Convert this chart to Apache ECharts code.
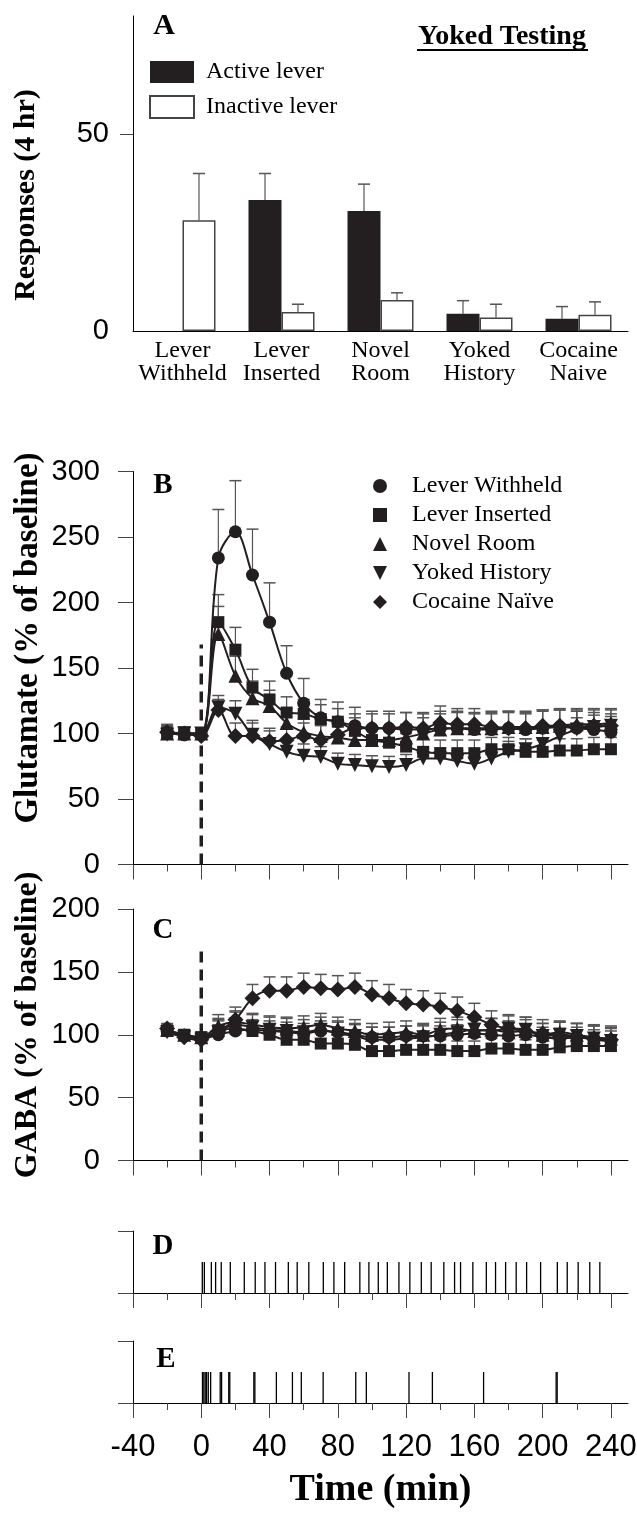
<!DOCTYPE html>
<html><head><meta charset="utf-8">
<script src="https://cdn.jsdelivr.net/npm/echarts@6/dist/echarts.min.js"></script>
<style>html,body{margin:0;padding:0;background:#fff}#c{width:637px;height:1521px}</style>
</head><body><div id="c"></div>
<script>
// ---------- Panel A data ----------
const barCategories = ['Lever\nWithheld','Lever\nInserted','Novel\nRoom','Yoked\nHistory','Cocaine\nNaive'];
const activeLever = [0, 33.3, 30.5, 4.4, 3.1];
const activeLeverErr = [0, 6.7, 6.8, 3.3, 3.1];
const inactiveLever = [28.1, 4.8, 7.9, 3.4, 4.1];
const inactiveLeverErr = [11.9, 2.0, 1.8, 3.4, 3.3];
const barYLabels = [0, 50];
const barYTicks = [50];

// ---------- Panels B, C data ----------
const groupNames = ['Lever Withheld','Lever Inserted','Novel Room','Yoked History','Cocaine Naïve'];
const timeMin = [-20,-10,0,10,20,30,40,50,60,70,80,90,100,110,120,130,140,150,160,170,180,190,200,210,220,230,240];

const gluLW = [101,99,99,234,254,221,185,146,123,112,109,106,104,104,103,103,104,104,103,103,104,103,104,105,104,103,101];
const gluLWErr = [6,6,5,37,39,35,30,21,19,14,15,14,13,13,13,12,13,13,12,12,13,12,13,13,13,13,12];
const gluLI = [100,100,100,185,164,135,126,116,115,111,109,102,95,93,90,86,85,85,85,88,88,86,86,87,87,88,88];
const gluLIErr = [5,5,4,21,17,14,14,12,11,11,10,10,10,10,10,10,10,10,10,9,9,10,9,9,9,9,9];
const gluNR = [100,100,100,176,144,127,121,108,101,98,97,95,95,95,97,100,103,104,104,104,105,105,105,106,107,107,108];
const gluNRErr = [5,5,4,21,15,13,12,11,10,10,10,10,10,10,10,12,12,12,12,12,12,12,13,12,12,12,11];
const gluYH = [99,100,100,120,115,99,92,86,83,82,77,76,75,74.5,76,81,81,79,77,81,86,88,92,98,103,105,106];
const gluYHErr = [5,5,4,9,10,11,10,9,9,8,8,8,8,8,8,8,8,8,8,8,8,8,9,9,9,9,9];
const gluCN = [101,100,98,118,98,98,94,95,98,95,99,104,104,104,105,104,108,107,107,105,104,104,106,106,105,106,106];
const gluCNErr = [5,5,4,8,10,10,10,10,10,11,11,11,11,11,11,12,13,12,12,12,12,12,12,13,13,12,12];

const gabaLW = [103,99,97,100,103,104,103,102,101,103,102,100,98,98,99,99,99,100,101,100,99,100,98,97,98,96,95];
const gabaLWErr = [4,4,4,8,8,8,8,8,8,8,8,8,8,8,8,8,8,8,8,8,8,8,8,8,8,8,8];
const gabaLI = [103,100,98,103,105,103,100,96,96,93,93,92,87,87,88,88,88,87,87,89,89,88,88,90,91,91,91];
const gabaLIErr = [4,4,4,8,8,8,8,8,8,8,8,8,8,8,8,8,8,8,8,8,8,8,8,8,8,8,8];
const gabaNR = [104,100,98,107,110,108,106,105,106,108,105,103,100,101,102,100,104,105,103,104,102,103,100,102,100,98,97];
const gabaNRErr = [4,4,4,9,9,9,9,9,9,9,9,9,9,9,9,9,9,9,9,9,9,9,9,9,9,9,9];
const gabaYH = [102,98,96,102,108,106,104,103,102,104,101,99,96,96,97,98,100,102,104,103,105,104,99,100,99,97,95];
const gabaYHErr = [4,4,4,10,10,10,10,10,10,10,10,10,10,10,10,10,10,10,10,10,10,10,10,10,10,10,10];
const gabaCN = [105,98,96,103,112,129,135,135,138,137,136,138,132,129,125,124,122,119,114,108,105,103,101,99,98,97,96];
const gabaCNErr = [4,4,4,10,10,11,11,11,11,11,11,11,11,11,11,11,11,11,11,11,11,11,11,11,11,11,11];

// ---------- Panels D, E data (event times, min) ----------
const eventsD = [0.6,1.8,5.9,8.4,11.7,17,25.2,31.6,37.3,43.5,51,56.2,63,71.5,77.7,84,92.9,98.2,103.7,109,115.8,122.2,128.9,134.7,142.1,148.4,151.9,159.1,167,172.4,178.3,184.5,190.6,198.8,208.6,214.4,220.8,227.6,233.5];
const eventsE = [0.7,1.5,2.3,3.1,4.1,5.5,11.1,11.9,16.1,16.7,30.8,31.4,44,53.4,58.6,71.4,90.5,96.7,121.7,135.4,165.4,207.9,208.5];

// ---------- axis tick values ----------
const timeMajorTicks = [-40,0,40,80,120,160,200,240];
const timeMinorTicks = [-20,20,60,100,140,180,220];
const gluTicks = [0,50,100,150,200,250,300];
const gabaTicks = [0,50,100,150,200];
const rasterTicks = [0,2];
const onsetTime = 0;
const onsetTopGlu = 168;
const onsetTopGaba = 171;

// ---------- styling ----------
const INK = '#231f20';
const SERIF = 'Liberation Serif';
const SANS = 'Liberation Sans';
const symbols = ['circle','rect','triangle','triangle','diamond'];
const symbolRot = [0,0,0,180,0];
const symbolSizes = [13,12,14,14,16];
const legendIcons = ['circle','rect','triangle','path://M0,0L10,0L5,10Z','diamond'];

const chart = echarts.init(document.getElementById('c'), null, {renderer:'canvas', width:637, height:1521});

const GL = 133, GW = 495;
const grids = [
  {left:GL, width:GW, top:16, height:315},
  {left:GL, width:GW, top:471.5, height:393},
  {left:GL, width:GW, top:909, height:251.5},
  {left:GL, width:GW, top:1231, height:62},
  {left:GL, width:GW, top:1341, height:62}
].map(g => Object.assign({outerBoundsMode:'none', containLabel:false}, g));

function timeAxes(gridIndex, showLabels){
  return [
    { type:'value', gridIndex, position:'bottom', min:-40, max:250, interval:40,
      axisLine:{show:true, onZero:false, lineStyle:{color:'#000', width:1}},
      axisTick:{show:true, customValues:timeMajorTicks, length:15, lineStyle:{color:'#444', width:1}},
      axisLabel:{show:showLabels, customValues:timeMajorTicks, fontFamily:SANS, fontSize:31, color:'#000', margin:29},
      splitLine:{show:false},
      name: showLabels ? 'Time (min)' : '', nameLocation:'middle', nameGap:68,
      nameTextStyle:{fontFamily:SERIF, fontWeight:'bold', fontSize:38, color:'#000'}
    },
    { type:'value', gridIndex, position:'bottom', offset:0, min:-40, max:250, interval:40,
      axisLine:{show:false, onZero:false},
      axisTick:{show:true, customValues:timeMinorTicks, length:7, lineStyle:{color:'#444', width:1}},
      axisLabel:{show:false}, splitLine:{show:false}
    }
  ];
}

const xAxes = [
  { type:'category', gridIndex:0, position:'bottom', data:barCategories,
    axisLine:{show:true, onZero:false, lineStyle:{color:'#000', width:1}},
    axisTick:{show:false},
    axisLabel:{fontFamily:SERIF, fontSize:24, lineHeight:23, color:'#000', margin:8, interval:0}
  },
  ...timeAxes(1,false), ...timeAxes(2,false), ...timeAxes(3,false), ...timeAxes(4,true)
];
// x axis indices: A=0, B=1, C=3, D=5, E=7

function valueY(gridIndex, max, interval, ticks, showLabels){
  return { type:'value', gridIndex, position:'left', min:0, max, interval,
    axisLine:{show:true, onZero:false, lineStyle:{color:'#000', width:1}},
    axisTick:{show:true, customValues:ticks, length:15, lineStyle:{color:'#444', width:1}},
    axisLabel:{show:showLabels, customValues:ticks, align:'right', fontFamily:SANS, fontSize:29, color:'#000', margin:33, padding:[8,0,0,0]},
    splitLine:{show:false}
  };
}
const yAxes = [
  { type:'value', gridIndex:0, position:'left', min:0, max:80,
    axisLine:{show:true, onZero:false, lineStyle:{color:'#000', width:1}},
    axisTick:{show:true, customValues:barYTicks, length:13, lineStyle:{color:'#444'}},
    axisLabel:{customValues:barYLabels, align:'right', fontFamily:SANS, fontSize:29, color:'#000', margin:24, padding:[6,0,0,0]},
    splitLine:{show:false}
  },
  valueY(1, 300, 50, gluTicks, true),
  valueY(2, 200, 50, gabaTicks, true),
  valueY(3, 2, 2, rasterTicks, false),
  valueY(4, 2, 2, rasterTicks, false)
];

function errRender(capHalf){
  return function(params, api){
    const x = api.value(0), lo = api.value(1), hi = api.value(2);
    const off = (api.value(3) || 0) * 16.5;
    const p0 = api.coord([x, lo]); const p1 = api.coord([x, hi]);
    const cx = p0[0] + off;
    return {type:'group', children:[
      {type:'line', shape:{x1:cx, y1:p0[1], x2:cx, y2:p1[1]}, style:{stroke:'#555', lineWidth:1.2}},
      {type:'line', shape:{x1:cx-capHalf, y1:p1[1], x2:cx+capHalf, y2:p1[1]}, style:{stroke:'#555', lineWidth:1.5}}
    ]};
  };
}

const series = [];
// Panel A bars
series.push({ name:'Active lever', type:'bar', xAxisIndex:0, yAxisIndex:0, data:activeLever,
  barWidth:33, barGap:'0%', itemStyle:{color:INK, borderWidth:0}, z:2 });
series.push({ name:'Inactive lever', type:'bar', xAxisIndex:0, yAxisIndex:0, data:inactiveLever,
  barWidth:33, barGap:'0%', itemStyle:{color:'#fff', borderColor:'#444', borderWidth:1.5}, z:2 });
const barErrData = [];
activeLever.forEach((v,i)=>{ if(activeLeverErr[i]>0) barErrData.push([i, v, v+activeLeverErr[i], -1]); });
inactiveLever.forEach((v,i)=>{ if(inactiveLeverErr[i]>0) barErrData.push([i, v, v+inactiveLeverErr[i], 1]); });
series.push({ type:'custom', xAxisIndex:0, yAxisIndex:0, data:barErrData, renderItem:errRender(6),
  encode:{x:0, y:[1,2]}, silent:true, z:1 });

// Panels B, C lines
const gluSets = [[gluLW,gluLWErr],[gluLI,gluLIErr],[gluNR,gluNRErr],[gluYH,gluYHErr],[gluCN,gluCNErr]];
const gabaSets = [[gabaLW,gabaLWErr],[gabaLI,gabaLIErr],[gabaNR,gabaNRErr],[gabaYH,gabaYHErr],[gabaCN,gabaCNErr]];
function addPanel(sets, xIdx, yIdx){
  sets.forEach((s,k)=>{
    const vals = s[0], errs = s[1];
    series.push({ type:'custom', xAxisIndex:xIdx, yAxisIndex:yIdx,
      data: timeMin.map((t,i)=>[t, vals[i], vals[i]+errs[i], 0]),
      renderItem: errRender(6), encode:{x:0, y:[1,2]}, silent:true, z:1 });
    series.push({ name:groupNames[k], type:'line', xAxisIndex:xIdx, yAxisIndex:yIdx,
      data: timeMin.map((t,i)=>[t, vals[i]]), smooth:0.35,
      symbol:symbols[k], symbolRotate:symbolRot[k], symbolSize:symbolSizes[k], showSymbol:true,
      lineStyle:{color:INK, width:2}, itemStyle:{color:INK, borderColor:INK, borderWidth:0},
      z:3, animation:false });
  });
}
addPanel(gluSets, 1, 1);
addPanel(gabaSets, 3, 2);

// dashed onset lines
series.push({ type:'line', xAxisIndex:1, yAxisIndex:1, data:[[onsetTime,0],[onsetTime,onsetTopGlu]],
  symbol:'none', lineStyle:{color:INK, width:3.5, type:[11,7]}, silent:true, z:4 });
series.push({ type:'line', xAxisIndex:3, yAxisIndex:2, data:[[onsetTime,0],[onsetTime,onsetTopGaba]],
  symbol:'none', lineStyle:{color:INK, width:3.5, type:[11,7]}, silent:true, z:4 });

// Panels D, E event rasters
function eventRender(params, api){
  const p0 = api.coord([api.value(0), 0]);
  const p1 = api.coord([api.value(0), api.value(1)]);
  return {type:'line', shape:{x1:p0[0], y1:p0[1], x2:p1[0], y2:p1[1]}, style:{stroke:'#000', lineWidth:1.3}};
}
series.push({ type:'custom', xAxisIndex:5, yAxisIndex:3, data:eventsD.map(t=>[t,1]),
  renderItem:eventRender, encode:{x:0,y:1}, silent:true });
series.push({ type:'custom', xAxisIndex:7, yAxisIndex:4, data:eventsE.map(t=>[t,1]),
  renderItem:eventRender, encode:{x:0,y:1}, silent:true });

function gText(text, x, y, size, opts){
  return Object.assign({ type:'text', x, y, silent:true,
    style:{text, fontFamily:SERIF, fontWeight:'bold', fontSize:size, fill:'#000', align:'center', verticalAlign:'middle'} }, opts||{});
}

const option = {
  animation:false,
  backgroundColor:'#fff',
  grid: grids,
  xAxis: xAxes,
  yAxis: yAxes,
  legend: [
    { orient:'vertical', left:149, top:60, itemWidth:44, itemHeight:22, itemGap:11, padding:0,
      data:['Active lever','Inactive lever'], icon:'rect', selectedMode:false,
      textStyle:{fontFamily:SERIF, fontSize:24, lineHeight:24, color:'#000', padding:[0,0,0,7]} },
    { orient:'vertical', left:373, top:474, itemWidth:14, itemHeight:14, itemGap:5, padding:0, selectedMode:false,
      data: groupNames.map((n,k)=>({name:n, icon:legendIcons[k]})),
      textStyle:{fontFamily:SERIF, fontSize:24, lineHeight:24, color:'#000', padding:[0,0,0,20]} }
  ],
  graphic: [
    gText('A', 164, 26, 30),
    gText('Yoked Testing', 502, 37, 28),
    { type:'line', silent:true, shape:{x1:417, y1:50, x2:588, y2:50}, style:{stroke:'#000', lineWidth:2} },
    gText('B', 163, 486, 29),
    gText('C', 163, 931, 29),
    gText('D', 163, 1247, 29),
    gText('E', 166, 1360, 29),
    gText('Responses (4 hr)', 26, 195, 30, {rotation:Math.PI/2}),
    gText('Glutamate (% of baseline)', 28, 638, 33, {rotation:Math.PI/2}),
    gText('GABA (% of baseline)', 28, 1025, 32, {rotation:Math.PI/2})
  ],
  series
};
chart.setOption(option);
</script>
</body></html>
